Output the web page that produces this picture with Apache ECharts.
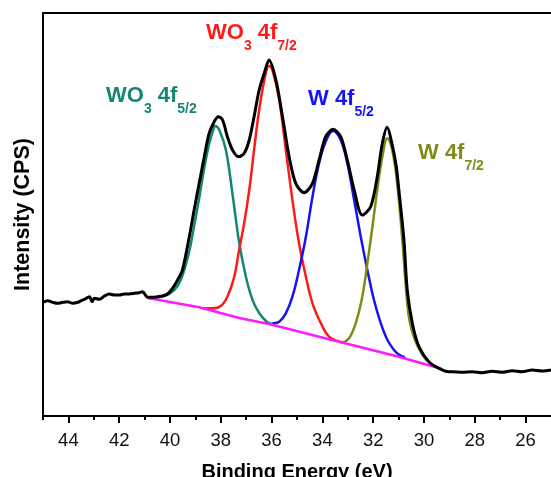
<!DOCTYPE html>
<html>
<head>
<meta charset="utf-8">
<script src="https://cdn.jsdelivr.net/npm/echarts@6/dist/echarts.min.js"></script>
<style>
  html, body { margin: 0; padding: 0; background: #fff; }
  #chart { width: 551px; height: 477px; }
</style>
</head>
<body>
<div id="chart"></div>
<script>
// binding energy (eV) / intensity (arb. units)
const envelopeE = [45.0, 44.81, 44.62, 44.42, 44.22, 44.03, 43.83, 43.63, 43.5, 43.37, 43.17, 43.07, 42.98, 42.78, 42.58, 42.39, 42.19, 41.99, 41.8, 41.6, 41.4, 41.21, 41.08, 40.88, 40.69, 40.49, 40.29, 40.1, 39.9, 39.7, 39.51, 39.24, 39.05, 38.85, 38.65, 38.46, 38.26, 38.1, 37.93, 37.74, 37.54, 37.3, 37.08, 36.88, 36.69, 36.49, 36.29, 36.1, 35.83, 35.57, 35.31, 35.05, 34.72, 34.39, 34.13, 33.87, 33.58, 33.28, 33.02, 32.75, 32.43, 32.1, 31.84, 31.64, 31.45, 31.25, 31.09, 30.99, 30.79, 30.66, 30.46, 30.2, 29.81, 29.41, 29.02, 28.89, 28.5, 28.1, 27.71, 27.32, 26.92, 26.53, 26.14, 25.74, 25.35, 25.0]
const envelopeI = [113.7, 115.3, 113.7, 112.7, 113.7, 114.3, 112.7, 113.7, 115.3, 116.7, 119.3, 114.3, 117.7, 116.7, 120, 122, 121, 121, 122, 122, 122.7, 123.3, 124.3, 118.7, 118.7, 119.3, 120, 122, 127.7, 136, 146, 179.3, 206, 232.7, 259.3, 282.7, 294.3, 299.3, 296, 279.3, 266, 259.3, 262.7, 276, 299.3, 326, 342.7, 356, 336, 299.3, 259.3, 232.7, 223.3, 232.7, 256, 279.3, 286.7, 279.3, 256, 226, 201, 209.3, 239.3, 272.7, 288.7, 271, 249.3, 226, 176, 126, 92.7, 69.3, 54.3, 47.7, 44.3, 44.3, 43.7, 44.3, 43.3, 44.7, 43.7, 45.3, 44.3, 46, 45, 46]

const wo3f52E = [40.82, 40.23, 39.83, 39.56, 39.24, 39.05, 38.85, 38.65, 38.46, 38.3, 38.22, 38.06, 37.8, 37.54, 37.28, 37.01, 36.75, 36.49, 36.18, 35.98]
const wo3f52I = [118, 120, 126, 137, 165, 190, 218, 248, 272, 286, 290, 286, 266, 222, 174, 139, 116, 103, 94, 92]

const wo3f72E = [38.72, 38.33, 38.0, 37.74, 37.47, 37.28, 37.08, 36.88, 36.69, 36.49, 36.23, 36.1, 35.97, 35.7, 35.44, 35.18, 34.92, 34.65, 34.39, 34.06, 33.74, 33.34, 33.15]
const wo3f72I = [107.7, 107.7, 110, 119.3, 139.3, 166, 192.7, 226, 266, 306, 342.7, 350, 346, 316, 266, 216, 172.7, 139.3, 112.7, 92.7, 79.3, 74.3, 73.3]

const wf52E = [35.97, 35.7, 35.44, 35.18, 34.92, 34.65, 34.39, 34.13, 33.87, 33.58, 33.28, 33.02, 32.75, 32.49, 32.23, 31.97, 31.7, 31.44, 31.18, 30.99, 30.75]
const wf52I = [92.7, 94.3, 102.7, 119.3, 146, 179.3, 219.3, 252.7, 274.3, 285, 276, 252.7, 216, 179.3, 146, 116, 92.7, 76, 66, 61.5, 58.5]

const wf72E = [33.21, 32.95, 32.69, 32.43, 32.23, 32.03, 31.84, 31.64, 31.44, 31.25, 31.05, 30.86, 30.72, 30.59, 30.4, 30.13, 29.88]
const wf72I = [73.3, 77.7, 92.7, 119.3, 152.7, 189.3, 226, 259.3, 277.7, 266, 231, 178, 131, 98, 79, 64, 55]

const backgroundE = [40.88, 38.85, 37.28, 36.1, 34.13, 32.56, 30.99, 29.29]
const backgroundI = [118, 108.7, 98, 92, 79.3, 69.3, 59.3, 47]

const majorTicks = [44, 42, 40, 38, 36, 34, 32, 30, 28, 26]
const minorTicks = [45, 43, 41, 39, 37, 35, 33, 31, 29, 27]

// label texts: main / subscript pairs
const labelWO3f72 = ['WO', '3', ' 4f', '7/2']
const labelWO3f52 = ['WO', '3', ' 4f', '5/2']
const labelWf52 = ['W 4f', '5/2']
const labelWf72 = ['W 4f', '7/2']

const FONT = '"Liberation Sans", Arial, Helvetica, sans-serif'

function zip (xs, ys) {
  return xs.map(function (x, i) { return [x, ys[i]] })
}

const measureCtx = document.createElement('canvas').getContext('2d')
function textWidth (str, font) {
  measureCtx.font = font
  return measureCtx.measureText(str).width
}

// one coloured label built from main text and subscripts
function peakLabel (parts, color, left, baseline) {
  const out = []
  let x = left
  parts.forEach(function (p, i) {
    const sub = i % 2 === 1
    const size = sub ? 14 : 22
    const font = 'bold ' + size + 'px ' + FONT
    const base = sub ? baseline + 10 : baseline
    out.push({
      type: 'text',
      x: x,
      y: base - 0.31 * size,
      silent: true,
      style: { text: p, font: font, fill: color, verticalAlign: 'middle', align: 'left' }
    })
    x += textWidth(p, font)
  })
  return out
}

function lineSeries (name, xs, ys, color, width, smooth) {
  return {
    name: name,
    type: 'line',
    data: zip(xs, ys),
    showSymbol: false,
    smooth: smooth,
    lineStyle: { color: color, width: width },
    itemStyle: { color: color },
    z: 2
  }
}

const myChart = echarts.init(document.getElementById('chart'), null, { renderer: 'canvas' })

const option = {
  animation: false,
  backgroundColor: '#fff',
  grid: {
    left: 43,
    right: 0,
    top: 13,
    bottom: 61,
    containLabel: false,
    outerBoundsMode: 'none'
  },
  xAxis: [
    {
      type: 'value',
      position: 'bottom',
      inverse: true,
      min: 25,
      max: 45,
      name: 'Binding Energy (eV)',
      nameLocation: 'middle',
      nameGap: 46,
      nameTextStyle: { fontSize: 20, fontWeight: 'bold', color: '#000', fontFamily: FONT },
      axisLine: { show: true, lineStyle: { color: '#000', width: 2 } },
      axisTick: { show: true, customValues: majorTicks, length: 7, lineStyle: { color: '#000', width: 2 } },
      axisLabel: { customValues: majorTicks, fontSize: 18.5, color: '#111', margin: 15, fontFamily: FONT },
      splitLine: { show: false }
    },
    {
      type: 'value',
      position: 'bottom',
      inverse: true,
      min: 25,
      max: 45,
      axisLine: { show: false },
      axisTick: { show: true, customValues: minorTicks, length: 4, lineStyle: { color: '#000', width: 2 } },
      axisLabel: { show: false },
      splitLine: { show: false }
    },
    {
      type: 'value',
      position: 'top',
      inverse: true,
      min: 25,
      max: 45,
      axisLine: { show: true, lineStyle: { color: '#000', width: 2 } },
      axisTick: { show: false },
      axisLabel: { show: false },
      splitLine: { show: false }
    }
  ],
  yAxis: {
    type: 'value',
    min: 0,
    max: 403,
    name: 'Intensity (CPS)',
    nameLocation: 'middle',
    nameGap: 9,
    nameTextStyle: { fontSize: 21.5, fontWeight: 'bold', color: '#000', fontFamily: FONT },
    axisLine: { show: true, lineStyle: { color: '#000', width: 2 } },
    axisTick: { show: false },
    axisLabel: { show: false },
    splitLine: { show: false }
  },
  series: [
    lineSeries('WO3 4f5/2', wo3f52E, wo3f52I, '#13876f', 2.5, 0.4),
    lineSeries('WO3 4f7/2', wo3f72E, wo3f72I, '#ff1a1a', 2.5, 0.4),
    lineSeries('W 4f5/2', wf52E, wf52I, '#1414f5', 2.5, 0.4),
    lineSeries('W 4f7/2', wf72E, wf72I, '#808c14', 2.5, 0.4),
    lineSeries('Background', backgroundE, backgroundI, '#ff1aff', 2.5, false),
    lineSeries('Envelope', envelopeE, envelopeI, '#000', 3, 0.3)
  ],
  graphic: []
    .concat(peakLabel(labelWO3f72, '#ff1a1a', 206, 40))
    .concat(peakLabel(labelWO3f52, '#13876f', 106, 103))
    .concat(peakLabel(labelWf52, '#1414f5', 308, 106))
    .concat(peakLabel(labelWf72, '#808c14', 418, 160))
}

myChart.setOption(option)
</script>
</body>
</html>
